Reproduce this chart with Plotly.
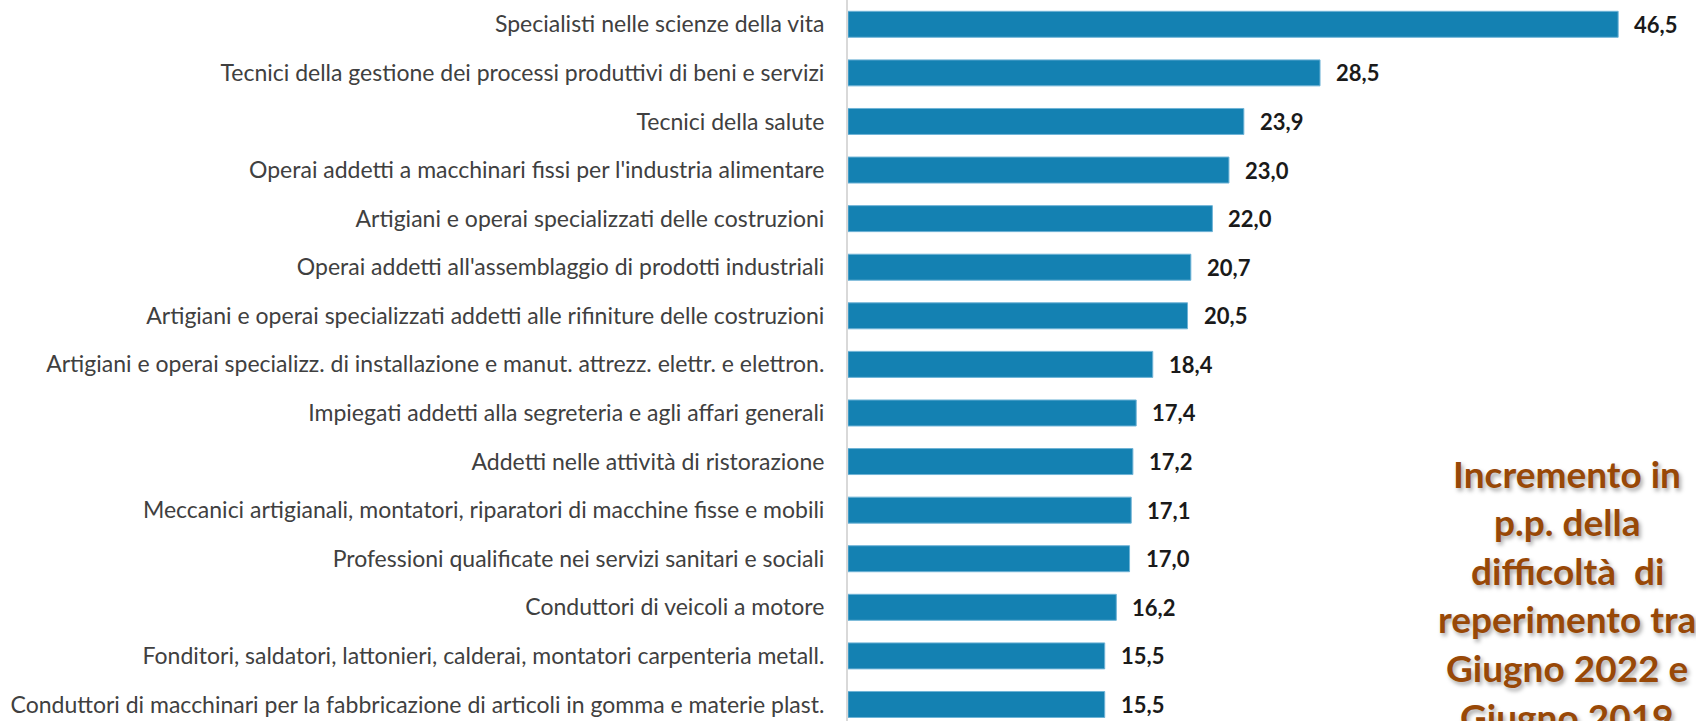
import plotly.graph_objects as go

categories = [
    "Specialisti nelle scienze della vita",
    "Tecnici della gestione dei processi produttivi di beni e servizi",
    "Tecnici della salute",
    "Operai addetti a macchinari fissi per l'industria alimentare",
    "Artigiani e operai specializzati delle costruzioni",
    "Operai addetti all'assemblaggio di prodotti industriali",
    "Artigiani e operai specializzati addetti alle rifiniture delle costruzioni",
    "Artigiani e operai specializz. di installazione e manut. attrezz. elettr. e elettron.",
    "Impiegati addetti alla segreteria e agli affari generali",
    "Addetti nelle attività di ristorazione",
    "Meccanici artigianali, montatori, riparatori di macchine fisse e mobili",
    "Professioni qualificate nei servizi sanitari e sociali",
    "Conduttori di veicoli a motore",
    "Fonditori, saldatori, lattonieri, calderai, montatori carpenteria metall.",
    "Conduttori di macchinari per la fabbricazione di articoli in gomma e materie plast.",
]
values = [46.5, 28.5, 23.9, 23.0, 22.0, 20.7, 20.5, 18.4, 17.4, 17.2, 17.1, 17.0, 16.2, 15.5, 15.5]
side_note_lines = [
    "Incremento in",
    "p.p. della",
    "difficoltà  di",
    "reperimento tra",
    "Giugno 2022 e",
    "Giugno 2019",
]

fig = go.Figure()
fig.add_trace(go.Bar(
    x=values,
    y=categories,
    orientation="h",
    marker=dict(color="#1481B2", line=dict(color="#6FB3D6", width=1)),
    hoverinfo="skip",
))

for c, v in zip(categories, values):
    fig.add_annotation(
        x=v, y=c, text=f"{v:.1f}".replace(".", ","),
        xanchor="left", yanchor="middle", xshift=14, showarrow=False,
        font=dict(family="Lato", size=22, color="#1a1a1a", weight="bold"),
    )

line_top = 1 - 473 / 721
line_step = 48.6 / 721
for i, line in enumerate(side_note_lines):
    fig.add_annotation(
        xref="paper", yref="paper", x=0.848, y=line_top - i * line_step,
        xanchor="center", yanchor="middle", align="center",
        text=line, showarrow=False,
        font=dict(family="Lato", size=37, color="#984807", weight="bold",
                  shadow="2px 3px 4px rgba(0,0,0,0.35)"),
    )

fig.update_layout(
    width=1696, height=721,
    margin=dict(l=848, r=0, t=0, b=0, autoexpand=False),
    paper_bgcolor="white", plot_bgcolor="white",
    bargap=0.465,
    showlegend=False,
    separators=",.",
    font=dict(family="Lato", color="#404040"),
)
fig.update_xaxes(range=[0, 51.2], visible=False, automargin=False)
fig.update_yaxes(
    range=[14.34, -0.5], automargin=False,
    showline=True, linecolor="#D9D9D9", linewidth=2,
    ticks="outside", ticklen=17, tickcolor="rgba(0,0,0,0)",
    tickfont=dict(family="Lato", size=23, color="#404040"),
    showgrid=False,
)

fig.write_html(
    "out.html",
    config={"displayModeBar": False},
    post_script="document.body.style.margin='0';document.body.style.overflow='hidden';",
)
